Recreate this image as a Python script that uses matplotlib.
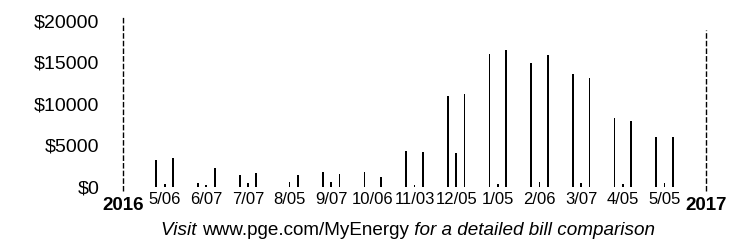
import numpy as np
import matplotlib.pyplot as plt

plt.rcParams['font.family'] = ['Liberation Sans', 'DejaVu Sans']

# billing periods (read dates under each group of bars)
months = ['5/06', '6/07', '7/07', '8/05', '9/07', '10/06', '11/03',
          '12/05', '1/05', '2/06', '3/07', '4/05', '5/05']
years = ['2016', '2017']

# dollar amounts, left / middle / right bar of each group
left_vals = [3200, 400, 1400, 0, 1800, 1800, 4300, 10950, 15950, 14900, 13550, 8200, 5950]
mid_vals = [300, 200, 400, 500, 600, 0, 150, 4000, 300, 500, 400, 250, 400]
right_vals = [3450, 2200, 1650, 1400, 1550, 1200, 4150, 11200, 16400, 15850, 13100, 7850, 5950]

# dashed year separators (top of each line)
year_tops = [20400, 18900]

yticks = [0, 5000, 10000, 15000, 20000]

fig = plt.figure(figsize=(7.3, 2.49), dpi=100)
ax = fig.add_axes([0.1514, 0.221, 0.833, 0.730])

x = np.arange(1, len(months) + 1)
off = 0.2
bw = 0.042
ax.bar(x - off, left_vals, width=bw, color='black')
ax.bar(x, mid_vals, width=bw, color='black')
ax.bar(x + off, right_vals, width=bw, color='black')

# year separator lines at both ends
year_x = [0, len(months) + 1]
ax.vlines(year_x, [-500, -600], year_tops, colors='black',
          linewidth=1.0, linestyles=(0, (4, 1.5)))

ax.set_xlim(-0.3, 14.3)
ax.set_ylim(-900, 21000)
ax.set_yticks(yticks)
ax.set_yticklabels(['$%d' % v for v in yticks], fontsize=14)
ax.tick_params(axis='y', length=0, pad=8)
ax.set_xticks([])
for s in ax.spines.values():
    s.set_visible(False)

tr = ax.get_xaxis_transform()
for xi, lab in zip(x, months):
    ax.text(xi, -0.032, lab, transform=tr, ha='center', va='center', fontsize=12)
for xi, lab in zip(year_x, years):
    ax.text(xi, -0.066, lab, transform=tr, ha='center', va='center',
            fontsize=13.5, fontweight='bold')

# footer line, italic around the plain web address
pieces = [('Visit ', 'italic'), ('www.pge.com/MyEnergy', 'normal'),
          (' for a detailed bill comparison', 'italic')]
fig.canvas.draw()
r = fig.canvas.get_renderer()
texts = [fig.text(0, 0.073, p, fontsize=13.6, style=st, va='center') for p, st in pieces]
widths = [t.get_window_extent(r).width for t in texts]
total = sum(widths)
xpos = (408 - total / 2) / 730
for t, w in zip(texts, widths):
    t.set_x(xpos)
    xpos += w / 730

fig.savefig('out.png', dpi=100)
